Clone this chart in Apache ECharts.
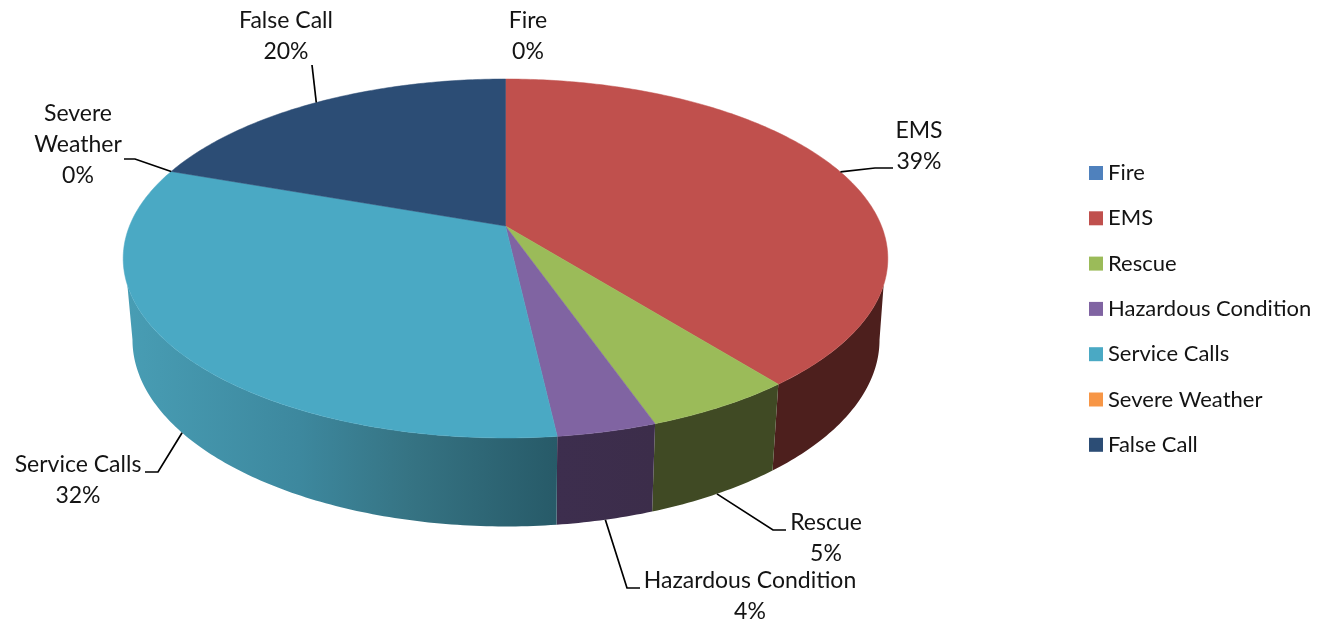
<!DOCTYPE html>
<html>
<head>
<meta charset="utf-8">
<style>html,body{margin:0;padding:0;background:#fff}#c{width:1320px;height:621px}</style>
<script src="https://cdn.jsdelivr.net/npm/echarts@6/dist/echarts.min.js"></script>
</head>
<body>
<div id="c"></div>
<script>
var categories = ['Fire','EMS','Rescue','Hazardous Condition','Service Calls','Severe Weather','False Call'];
var shareValues = [0, 39.3, 5.35, 3.55, 32.2, 0, 19.6];
var labelLines = [['Fire'],['EMS'],['Rescue'],['Hazardous Condition'],['Service Calls'],['Severe','Weather'],['False Call']];
var faceColors = ['#4F81BD','#C0504D','#9BBB59','#8064A2','#4AA9C4','#F79646','#2C4D75'];
var wallStops = [
  null,
  [[0,'#4D1F1D'],[1,'#4D1F1D']],
  [[0,'#404A24'],[1,'#404A24']],
  [[0,'#3D2E4E'],[1,'#3C2D4A']],
  [[0,'#489DB4'],[0.4,'#3D889E'],[0.65,'#367484'],[1,'#275A68']],
  null, null
];

// Projection of the disc: perspective ellipse parameters
var P = {cx:505.5, cy:226, A:376, B:173.6, k:0.181, botX:506, botY:306, botSX:0.977, botSY:1.04};
// Label layout: text centre x, first line y, leader elbow and end, leader starts on bottom rim?
var labelLayout = [
  {x:528, y:21},
  {x:919, y:131, lead:[[875,168],[893,168]], rim:'top'},
  {x:826, y:523, lead:[[773,530],[786,530]], rim:'bottom'},
  {x:750, y:581, lead:[[627,588],[640,588]], rim:'bottom'},
  {x:78,  y:465, lead:[[158,472],[145,472]], rim:'bottom'},
  {x:78,  y:114, lead:[[135,159],[124,159]], rim:'top'},
  {x:286, y:21,  lead:[[312,65]], rim:'top'}
];
var LABEL_FONT = '23px Lato, "Open Sans", sans-serif';
var LINE_H = 30.7;

var total = shareValues.reduce(function(a,b){return a+b;},0);
var cum = [];
shareValues.reduce(function(acc,v,i){cum[i]=acc;return acc+v;},0);
function ang(p){return p/total*Math.PI*2;}
function proj(t,plane){
  var X=Math.sin(t),Y=Math.cos(t),w=1+P.k*Y;
  var sx=P.A*X/w, sy=-P.B*Y/w;
  if(plane==='top') return [P.cx+sx,P.cy+sy];
  return [P.botX+P.botSX*sx,P.botY+P.botSY*sy];
}
function arc(a,b,plane){
  var pts=[],n=Math.max(2,Math.ceil((b-a)/(Math.PI/240)));
  for(var i=0;i<=n;i++) pts.push(proj(a+(b-a)*i/n,plane));
  return pts;
}
var T0=Math.acos(-0.32), B0=Math.acos(-P.k);

function renderSlice(i){
  return function(){
    var kids=[], v=shareValues[i];
    var a=ang(cum[i]), b=ang(cum[i]+v), mid=(a+b)/2;
    if(v>0 && wallStops[i]){
      var ta=Math.max(a,T0), tb=Math.min(b,2*Math.PI-T0);
      var ba=Math.max(a,B0), bb=Math.min(b,2*Math.PI-B0);
      if(tb>ta){
        var pts=arc(ta,tb,'top').concat(arc(ba,bb,'bottom').reverse());
        var xs=pts.map(function(p){return p[0];});
        var fill={type:'linear',global:true,x:Math.min.apply(null,xs),y:0,x2:Math.max.apply(null,xs),y2:0,
          colorStops:wallStops[i].map(function(s){return {offset:s[0],color:s[1]};})};
        kids.push({type:'polygon',shape:{points:pts},style:{fill:fill,stroke:null}});
      }
    }
    if(v>0){
      var face=[[P.cx,P.cy]].concat(arc(a,b,'top'));
      kids.push({type:'polygon',shape:{points:face},style:{fill:faceColors[i],stroke:faceColors[i],lineWidth:0.5}});
    }
    var L=labelLayout[i];
    if(L.lead){
      var line=[proj(v>0?mid:a,L.rim)].concat(L.lead);
      kids.push({type:'polyline',shape:{points:line},style:{fill:null,stroke:'#000',lineWidth:1.7},z2:10});
    }
    var lines=labelLines[i].concat([Math.round(v/total*100)+'%']);
    lines.forEach(function(t,j){
      kids.push({type:'text',z2:11,style:{x:L.x,y:L.y+j*LINE_H,text:t,font:LABEL_FONT,fill:'#141414',align:'center',verticalAlign:'middle'}});
    });
    return {type:'group',children:kids};
  };
}

var series = categories.map(function(name,i){
  return {name:name,type:'custom',coordinateSystem:'none',renderItem:renderSlice(i),
    data:[shareValues[i]],itemStyle:{color:faceColors[i]},silent:true,animation:false};
});

var chart = echarts.init(document.getElementById('c'),null,{renderer:'canvas'});
chart.setOption({
  animation:false,
  backgroundColor:'#fff',
  legend:{
    orient:'vertical',left:1089,top:162,padding:0,
    itemWidth:14,itemHeight:14,itemGap:23.3,icon:'rect',selectedMode:false,
    textStyle:{fontFamily:'Lato',fontSize:22,color:'#141414',lineHeight:6,padding:0},
    data:categories
  },
  series:series
});
</script>
</body>
</html>
